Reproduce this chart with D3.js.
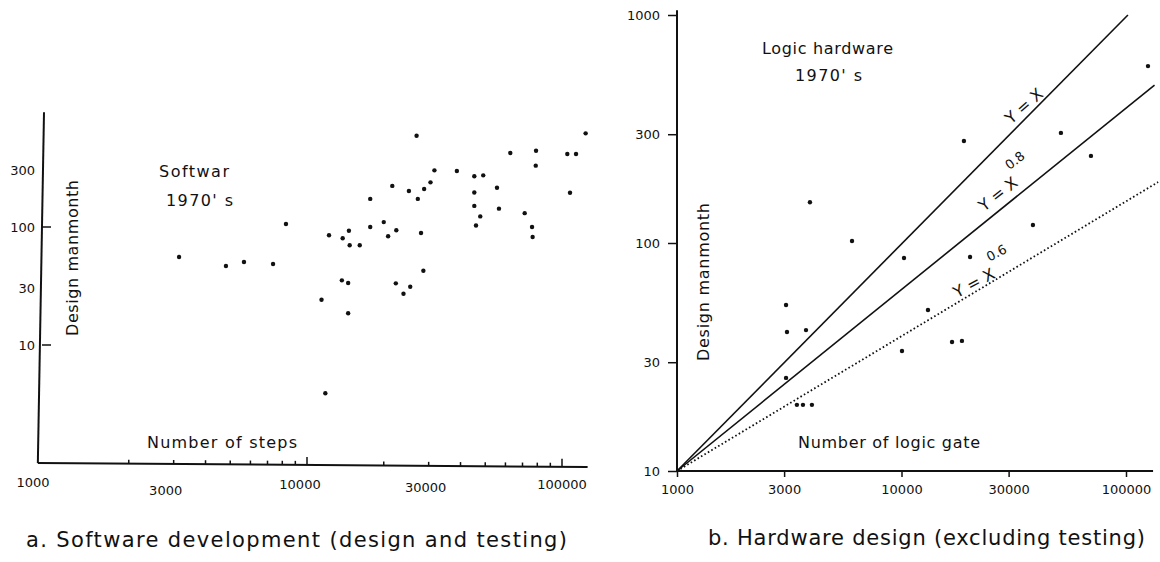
<!DOCTYPE html>
<html>
<head>
<meta charset="utf-8">
<script src="https://cdn.jsdelivr.net/npm/d3@7"></script>
<style>
body { margin: 0; background: #fff; }
svg { font-family: "DejaVu Sans", sans-serif; fill: #111; }
.tick text, .lbl { font-size: 13px; }
.ann { font-size: 16px; }
.cap { font-size: 21px; }
</style>
</head>
<body>
<div id="chart"></div>
<script>
var w = 1160;
var h = 562;

// a. software development - number of steps vs design manmonth
var swSteps = [3150, 4810, 5660, 7360, 8270, 26900, 123800, 62700, 79100, 104900, 113500, 78900, 107500,
               31600, 38700, 45300, 49100, 21600, 25100, 28800, 30500, 27200, 45300, 55600, 17700, 45300,
               56600, 47800, 46000, 71400, 76300, 76700, 12200, 13800, 14600, 14700, 16100, 17700, 20000,
               20800, 22400, 28000, 28600, 13700, 14500, 22300, 25400, 23900, 11400, 14500, 11800];
var swManmonth = [55.7, 46.7, 50.5, 48.6, 106, 594, 622, 424, 443, 415, 415, 331, 195,
                  302, 298, 269, 274, 223, 202, 210, 239, 173, 196, 215, 173, 151,
                  143, 123, 103, 131, 100, 82.3, 85.1, 80.2, 93.0, 70.0, 70.0, 100, 110,
                  83.4, 93.8, 89.0, 42.6, 35.3, 33.5, 33.3, 31.2, 27.2, 24.2, 18.6, 3.9];

// b. hardware design - number of logic gate vs design manmonth
var hwGates = [125300, 18970, 51300, 69800, 10260, 20200, 38500, 3910, 6020, 3060,
               3090, 3755, 3060, 3420, 3640, 3990, 13120, 10050, 16790, 18590];
var hwManmonth = [597, 280, 304, 241, 85.9, 86.8, 120, 151, 102, 53.5,
                  40.7, 41.5, 25.6, 19.5, 19.5, 19.5, 50.8, 33.6, 36.8, 37.2];

// reference lines Y = X, Y = X^0.8, Y = X^0.6 (end points)
var lineX = [[1000, 10], [102000, 1000]];
var lineX08 = [[1000, 10], [134000, 493]];
var lineX06 = [[1000, 10], [139000, 185]];

var xTicks = [1000, 3000, 10000, 30000, 100000];
var swYTicks = [10, 30, 100, 300];
var hwYTicks = [10, 30, 100, 300, 1000];

var svg = d3.select("#chart")
            .append("svg")
            .attr("width", w)
            .attr("height", h);

/************ a. software ************/
var xL = d3.scaleLog().domain([1000, 100000]).range([52, 562]);
var yL = d3.scaleLog().domain([1, 1000]).range([463, 109]);

var gL = svg.append("g");

// axis lines (the scanned axes lean a little)
gL.append("line")
  .attr("x1", 44).attr("y1", yL(940))
  .attr("x2", xL(880)).attr("y2", yL(1))
  .attr("stroke", "#111").attr("stroke-width", 2);
gL.append("line")
  .attr("x1", xL(880)).attr("y1", yL(1))
  .attr("x2", xL(126000)).attr("y2", yL(1) + 4)
  .attr("stroke", "#111").attr("stroke-width", 2);

// little upward ticks along the bottom
gL.selectAll(".mtick")
  .data(xL.ticks().filter(function (d) { return d > 1000; }))
  .enter()
  .append("line")
  .attr("class", "mtick")
  .attr("x1", function (d) { return xL(d); })
  .attr("x2", function (d) { return xL(d); })
  .attr("y1", function (d) { return yL(1) + 4 * (xL(d) - 38) / 550; })
  .attr("y2", function (d) {
    var big = (d === 10000 || d === 100000);
    return yL(1) + 4 * (xL(d) - 38) / 550 - (big ? 8 : 4);
  })
  .attr("stroke", "#111").attr("stroke-width", 1.5);

var swLabelDx = [-19, -8, -7, -3, 0];
var swLabelY = [482, 490, 484, 487, 484];
gL.selectAll(".xl")
  .data(xTicks)
  .enter()
  .append("text")
  .attr("class", "lbl")
  .attr("text-anchor", "middle")
  .attr("dominant-baseline", "central")
  .attr("x", function (d, i) { return xL(d) + swLabelDx[i]; })
  .attr("y", function (d, i) { return swLabelY[i]; })
  .text(function (d) { return d; });

// y ticks point inwards
gL.selectAll(".ytick")
  .data([10, 100])
  .enter()
  .append("line")
  .attr("x1", 42).attr("x2", 51)
  .attr("y1", function (d) { return yL(d); })
  .attr("y2", function (d) { return yL(d); })
  .attr("stroke", "#111").attr("stroke-width", 1.5);

gL.selectAll(".yl")
  .data(swYTicks)
  .enter()
  .append("text")
  .attr("class", "lbl")
  .attr("text-anchor", "end")
  .attr("dominant-baseline", "central")
  .attr("x", 35)
  .attr("y", function (d) { return yL(d); })
  .text(function (d) { return d; });

gL.selectAll("circle")
  .data(swSteps)
  .enter()
  .append("circle")
  .attr("cx", function (d) { return xL(d); })
  .attr("cy", function (d, i) { return yL(swManmonth[i]); })
  .attr("r", 2.2)
  .attr("fill", "#111");

gL.append("text").attr("class", "ann")
  .attr("transform", "translate(72,258) rotate(-90)")
  .attr("text-anchor", "middle").attr("dominant-baseline", "central")
  .attr("textLength", 156)
  .text("Design manmonth");
gL.append("text").attr("class", "ann")
  .attr("x", 147).attr("y", 442).attr("dominant-baseline", "central")
  .attr("textLength", 150)
  .text("Number of steps");
gL.append("text").attr("class", "ann")
  .attr("x", 159).attr("y", 171).attr("dominant-baseline", "central")
  .attr("textLength", 70)
  .text("Softwar");
gL.append("text").attr("class", "ann")
  .attr("x", 166).attr("y", 200).attr("dominant-baseline", "central")
  .attr("textLength", 67)
  .text("1970' s");
gL.append("text").attr("class", "cap")
  .attr("x", 26).attr("y", 540).attr("dominant-baseline", "central")
  .attr("textLength", 541)
  .text("a.  Software development (design and  testing)");

/************ b. hardware ************/
var xR = d3.scaleLog().domain([1000, 100000]).range([677, 1126]);
var yR = d3.scaleLog().domain([10, 1000]).range([471, 15]);

var gR = svg.append("g");

var yAxisR = d3.axisLeft(yR)
               .tickValues(hwYTicks)
               .tickSize(9)
               .tickSizeOuter(0)
               .tickPadding(8)
               .tickFormat(d3.format("d"));
var xAxisR = d3.axisBottom(xR)
               .tickValues(xTicks)
               .tickSize(6)
               .tickSizeOuter(0)
               .tickPadding(8)
               .tickFormat(d3.format("d"));

gR.append("g")
  .attr("transform", "translate(" + xR(1000) + ",0)")
  .call(yAxisR);
gR.append("g")
  .attr("transform", "translate(0," + yR(10) + ")")
  .call(xAxisR);

gR.selectAll(".domain").remove();
gR.selectAll(".tick line").attr("stroke", "#111").attr("stroke-width", 1.5);
gR.selectAll(".tick text").attr("fill", "#111").attr("font-family", "DejaVu Sans").attr("font-size", 13);

gR.append("line")
  .attr("x1", xR(1000)).attr("y1", yR(1050))
  .attr("x2", xR(1000)).attr("y2", yR(10))
  .attr("stroke", "#111").attr("stroke-width", 2);
gR.append("line")
  .attr("x1", xR(1000)).attr("y1", yR(10))
  .attr("x2", xR(132000)).attr("y2", yR(10))
  .attr("stroke", "#111").attr("stroke-width", 2);

var line = d3.line()
             .x(function (d) { return xR(d[0]); })
             .y(function (d) { return yR(d[1]); });

gR.append("path").datum(lineX).attr("d", line)
  .attr("fill", "none").attr("stroke", "#111").attr("stroke-width", 1.6);
gR.append("path").datum(lineX08).attr("d", line)
  .attr("fill", "none").attr("stroke", "#111").attr("stroke-width", 1.6);
gR.append("path").datum(lineX06).attr("d", line)
  .attr("fill", "none").attr("stroke", "#111").attr("stroke-width", 1.8)
  .attr("stroke-dasharray", "1.6,2.4");

gR.selectAll("circle")
  .data(hwGates)
  .enter()
  .append("circle")
  .attr("cx", function (d) { return xR(d); })
  .attr("cy", function (d, i) { return yR(hwManmonth[i]); })
  .attr("r", 2.2)
  .attr("fill", "#111");

// line labels, rotated along the lines
function lineLabel(cx, cy, angle, sup) {
  var g = gR.append("g").attr("transform", "translate(" + cx + "," + cy + ") rotate(" + angle + ")");
  g.append("text").attr("class", "ann")
   .attr("text-anchor", "middle").attr("dominant-baseline", "central")
   .text("Y = X");
  if (sup) {
    g.append("text").attr("font-size", 13)
     .attr("x", 34).attr("y", -16)
     .attr("text-anchor", "middle").attr("dominant-baseline", "central")
     .text(sup);
  }
}
lineLabel(1024, 106, -41, null);
lineLabel(998, 194, -38, "0.8");
lineLabel(974, 283, -28, "0.6");

gR.append("text").attr("class", "ann")
  .attr("transform", "translate(703,282) rotate(-90)")
  .attr("text-anchor", "middle").attr("dominant-baseline", "central")
  .attr("textLength", 158)
  .text("Design manmonth");
gR.append("text").attr("class", "ann")
  .attr("x", 798).attr("y", 442).attr("dominant-baseline", "central")
  .attr("textLength", 182)
  .text("Number of logic gate");
gR.append("text").attr("class", "ann")
  .attr("x", 762).attr("y", 48).attr("dominant-baseline", "central")
  .attr("textLength", 131)
  .text("Logic hardware");
gR.append("text").attr("class", "ann")
  .attr("x", 795).attr("y", 75).attr("dominant-baseline", "central")
  .attr("textLength", 67)
  .text("1970' s");
gR.append("text").attr("class", "cap")
  .attr("x", 708).attr("y", 538).attr("dominant-baseline", "central")
  .attr("textLength", 437)
  .text("b.  Hardware design (excluding testing)");
</script>
</body>
</html>
